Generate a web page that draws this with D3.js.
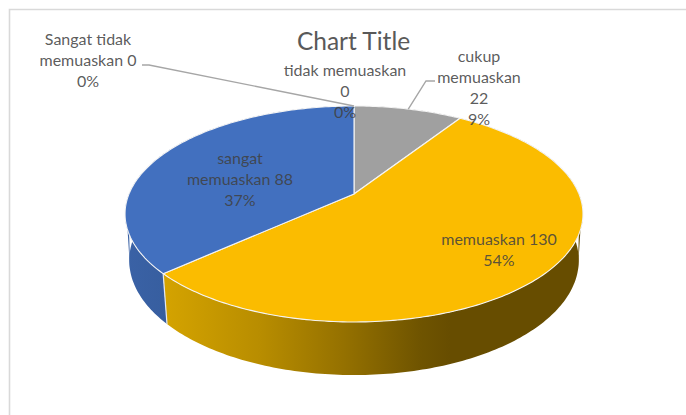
<!DOCTYPE html>
<html>
<head>
<meta charset="utf-8">
<script src="https://cdn.jsdelivr.net/npm/d3@7/dist/d3.min.js"></script>
<style>html,body{margin:0;padding:0;background:#fff;overflow:hidden}svg{display:block}text{font-family:Lato,"Open Sans",sans-serif}</style>
</head>
<body>
<svg id="c" width="686" height="415"></svg>
<script>
const categories = ["Sangat tidak memuaskan","tidak memuaskan","cukup memuaskan","memuaskan","sangat memuaskan"];
const values = [0,0,22,130,88];
const percents = ["0%","0%","9%","54%","37%"];
const topColors = ["#5B9BD5","#ED7D31","#A0A0A0","#FBBC00","#4270BF"];
const chartTitle = "Chart Title";

const svg = d3.select("#c");
const defs = svg.append("defs");

// Perspective projection of a disc (angle a clockwise from 12 o'clock; h=0 top face, h=1 bottom face)
const cx=354, cy=194, ax=225, sy=104.3, k=0.185, m=0.018, d=46.5;
function proj(a,r,h){
  const u=r*Math.sin(a), v=-r*Math.cos(a), w=1-k*v+m*h;
  return [cx+ax*u/w, cy+(sy*v+d*h)/w];
}
const pie=d3.pie().sort(null).value((_, i)=>values[i]).startAngle(0).endAngle(2*Math.PI);
const arcs=pie(categories).map((a,i)=>({...a,i}));
const line=d3.line();
const sample=(a)=>{const n=Math.max(2,Math.ceil((a.endAngle-a.startAngle)*60));
  return d3.range(n+1).map(j=>a.startAngle+(a.endAngle-a.startAngle)*j/n);};

// frame
svg.append("path").attr("d","M686,9.5H9.5V415").attr("fill","none").attr("stroke","#D9D9D9").attr("stroke-width",1.6);

// wall gradients
const wallStops={
 3:[[165,"#D4A300"],[260,"#B88D00"],[343,"#957100"],[420,"#6F5400"],[450,"#674D00"],[600,"#674D00"]],
 4:[[125,"#3A62A6"],[167,"#375E9F"]],
 2:[[350,"#777"],[470,"#555"]]
};
Object.entries(wallStops).forEach(([i,st])=>{
  const x0=st[0][0],x1=st[st.length-1][0];
  const g=defs.append("linearGradient").attr("id","w"+i).attr("gradientUnits","userSpaceOnUse")
    .attr("x1",x0).attr("x2",x1).attr("y1",0).attr("y2",0);
  st.forEach(s=>g.append("stop").attr("offset",(s[0]-x0)/(x1-x0)).attr("stop-color",s[1]));
});

const live=arcs.filter(a=>a.value>0);
// walls
svg.append("g").selectAll("path").data(live).join("path")
  .attr("d",a=>{const t=sample(a);
    return line([...t.map(x=>proj(x,1,0)),...t.slice().reverse().map(x=>proj(x,1,1))])+"Z";})
  .attr("fill",a=>`url(#w${a.i})`);
// silhouette slivers: straight tangent from the top face down to the bottom face
const tangents=[{s:1,top:1.90,bot:1.843,i:3},{s:-1,top:1.90,bot:1.843,i:4}];
svg.append("g").selectAll("path").data(tangents).join("path")
  .attr("d",t=>line([proj(t.s*t.top,1,0),proj(t.s*t.bot,1,1),proj(t.s*(t.bot-0.25),1,0)])+"Z")
  .attr("fill",t=>`url(#w${t.i})`);
// seam between blue and yellow wall
const seam=arcs[4].startAngle;
svg.append("path").attr("d",line([proj(seam,1,0),proj(seam,1,1)])).attr("stroke","#E4E8F0").attr("stroke-width",1.2).attr("fill","none");
// tops
svg.append("g").selectAll("path").data(live).join("path")
  .attr("d",a=>line([[cx,cy],...sample(a).map(x=>proj(x,1,0))])+"Z")
  .attr("fill",a=>topColors[a.i]).attr("stroke","#F4F4F4").attr("stroke-width",1.1).attr("stroke-linejoin","round");

// leaders
const lead=svg.append("g").attr("fill","none").attr("stroke","#A6A6A6").attr("stroke-width",1.4);
lead.append("path").attr("d",line([[142,65],[149,65],proj(arcs[0].startAngle,1,0)]));
const mid=(arcs[2].startAngle+arcs[2].endAngle)/2;
lead.append("path").attr("d",line([[435,81],[426,81],proj(mid,1,0)]));

// title
svg.append("text").attr("x",353.5).attr("y",50).attr("text-anchor","middle")
  .attr("font-size",24.5).attr("fill","#595959").text(chartTitle);

// labels: each row [category index, centre x, first baseline, line breaks]
const labelRows=[
 [0,88,45,["Sangat tidak","memuaskan "+values[0],percents[0]]],
 [1,345,76,[categories[1],""+values[1],percents[1]]],
 [2,479,62,["cukup","memuaskan",""+values[2],percents[2]]],
 [3,499,245,[categories[3]+" "+values[3],percents[3]]],
 [4,240,164,["sangat","memuaskan "+values[4],percents[4]]]
];
const lg=svg.append("g").attr("text-anchor","middle").attr("font-size",16).attr("fill","#404040").attr("fill-opacity",0.86);
labelRows.forEach(r=>{
  r[3].forEach((s,j)=>lg.append("text").attr("x",r[1]).attr("y",r[2]+j*21).text(s));
});
</script>
</body>
</html>
